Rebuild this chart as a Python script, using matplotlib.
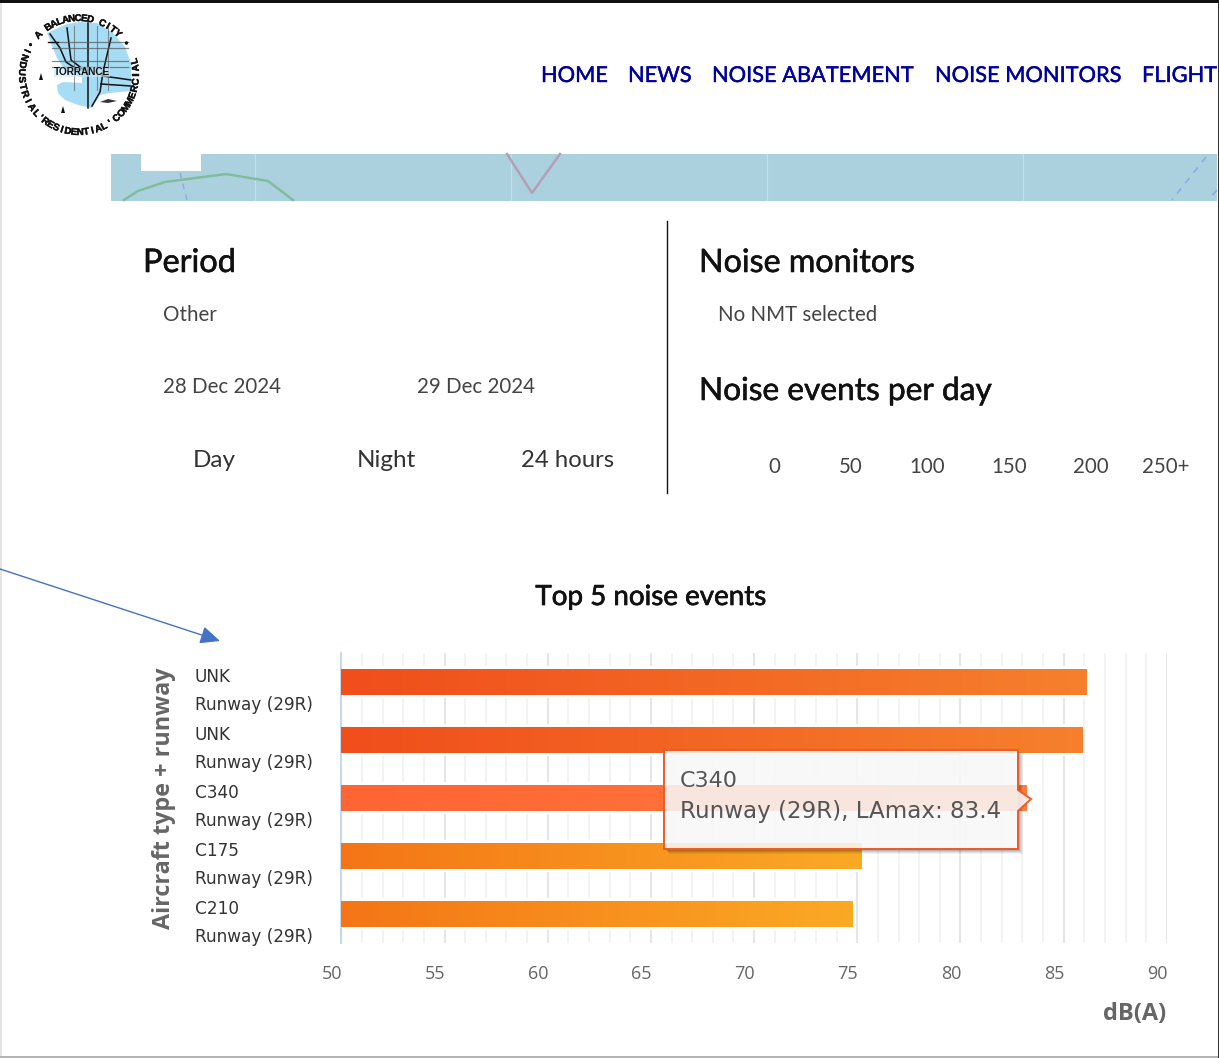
import numpy as np
import matplotlib
matplotlib.use("Agg")
import matplotlib.pyplot as plt
import matplotlib.patheffects as pe
from matplotlib.colors import LinearSegmentedColormap
from matplotlib.patches import Polygon, Rectangle
from matplotlib.ticker import MultipleLocator, NullFormatter
from matplotlib.transforms import ScaledTranslation

# chart data
aircraft = ["UNK", "UNK", "C340", "C175", "C210"]
runways = ["Runway (29R)"] * 5
lamax = [86.15, 85.95, 83.2, 75.2, 74.8]
bar_left_colors = ["#F04E1B", "#F04E1B", "#FF6433", "#F47516", "#F47516"]
bar_right_colors = ["#F6802D", "#F6802D", "#FF7D3D", "#FBAA25", "#FBAA25"]
x_ticks = [50, 55, 60, 65, 70, 75, 80, 85, 90]

# page text
nav_items = ["HOME", "NEWS", "NOISE ABATEMENT", "NOISE MONITORS", "FLIGHT"]
nav_x = [541, 628, 712, 935, 1142]
scale_labels = ["0", "50", "100", "150", "200", "250+"]
scale_x = [774, 851, 927, 1009, 1091, 1166]

W, H = 1219, 1058
fig = plt.figure(figsize=(W / 100, H / 100), dpi=100, facecolor="white")

# -------------------------------
# Page background, pixel coordinates
# -------------------------------
bg = fig.add_axes([0, 0, 1, 1], zorder=0)
bg.set_xlim(0, W)
bg.set_ylim(H, 0)
bg.axis("off")


def label(x, y, s, size, color="#333333", stroke=0.0, ha="left"):
    t = bg.text(x, y, s, fontsize=size, color=color, ha=ha, va="baseline", family="Lato")
    if stroke:
        t.set_path_effects([pe.withStroke(linewidth=stroke, foreground=color)])
    return t


# frame of the screenshot
bg.add_patch(Rectangle((0, 0), W, 3, color="#111111", lw=0))
bg.add_patch(Rectangle((0, 3), 1.5, H, color="#E4E4E4", lw=0))
bg.add_patch(Rectangle((0, H - 2), W, 2, color="#B4B4B4", lw=0))
bg.add_patch(Rectangle((1217.5, 3), 1.5, H, color="#333333", lw=0))

# logo
cx, cy = 79, 75
land = Polygon([(47, 33), (67, 24), (80, 22), (97, 23), (113, 33), (125, 47), (131, 63), (131, 91),
                (110, 93), (100, 95), (92, 108), (78, 105), (65, 100), (58, 93), (57, 85), (63, 82),
                (82, 83), (82, 77), (67, 73), (57, 58)], color="#A6DCF4", lw=0)
bg.add_patch(land)
roads = [[(50, 34), (60, 48), (66, 62), (78, 70)], [(67, 28), (71, 60), (84, 70)], [(88, 23), (88, 108)],
         [(111, 38), (103, 72), (100, 92), (92, 106)], [(101, 84), (131, 86)], [(103, 76), (131, 80)]]
for r in roads:
    bg.plot(*zip(*r), color="#111111", lw=1.1)
for yy in [42, 48, 61, 67]:
    bg.plot([52, 128], [yy, yy], color="#555555", lw=0.9, alpha=0.7)
for xx in [74, 97, 108]:
    bg.plot([xx, xx], [26, 90], color="#555555", lw=0.8, alpha=0.6)
bg.plot([48, 58], [42, 42], color="#111111", lw=1.0)
bg.text(82, 72, "TORRANCE", fontsize=7.2, fontweight="bold", family="Liberation Sans",
        ha="center", va="center", color="#111111",
        bbox=dict(facecolor="#C8E8F6", edgecolor="none", pad=0.2, alpha=0.6))
for px, py in [(41, 77), (63, 110)]:
    bg.add_patch(Polygon([(px - 2, py + 3), (px, py - 4), (px + 2, py + 3)], color="#111111", lw=0))
bg.add_patch(Polygon([(100, 102), (108, 99), (117, 101), (108, 103)], color="#333333", lw=0))


def arc_text(s, start, end, radius, outward):
    angles = np.linspace(start, end, len(s))
    for ch, a in zip(s, angles):
        rad = np.deg2rad(a)
        rot = a - 90 if outward else a + 90
        t = bg.text(cx + radius * np.cos(rad), cy - radius * np.sin(rad), ch, fontsize=7,
                    fontweight="bold", family="Liberation Sans", rotation=rot,
                    rotation_mode="anchor", ha="center", va="center", color="#111111")
        t.set_path_effects([pe.withStroke(linewidth=0.3, foreground="#111111")])


arc_text("• A BALANCED CITY •", 148, 34, 57, True)
arc_text("INDUSTRIAL", 155, 222, 57, False)
arc_text("RESIDENTIAL", 234, 296, 57, False)
arc_text("COMMERCIAL", 311, 374, 57, False)
arc_text("'", 228, 228, 57, False)
arc_text("'", 303, 303, 57, False)

# menu
for s, x in zip(nav_items, nav_x):
    label(x, 82, s, 15.7, color="#00009C", stroke=0.3)

# map strip
bg.add_patch(Rectangle((111, 154), W - 111 - 2, 46.5, color="#ACD1DE", lw=0))
bg.add_patch(Rectangle((141, 154), 60, 17, color="white", lw=0))
for x in [255, 511, 767, 1023]:
    bg.plot([x, x], [154, 200], color="#C4DFE7", lw=0.8)
bg.plot([124, 138, 165, 226, 268, 293], [200, 191, 182, 174, 181, 200], color="#82BC9C", lw=1.8)
bg.plot([507, 532, 560], [154, 193, 154], color="#B3A0B8", lw=1.8)
bg.plot([180, 187], [173, 200], color="#8FA8E8", lw=1.0, ls=(0, (4, 4)))
bg.plot([1206, 1172], [157, 200], color="#8FA8E8", lw=1.2, ls=(0, (4, 4)))
bg.plot([1217, 1208], [190, 200], color="#8FA8E8", lw=1.2, ls=(0, (4, 4)))

# panels above the chart
bg.plot([667, 667], [221, 493], color="#111111", lw=1.0)
label(143, 272, "Period", 23.4, color="#111111", stroke=0.4)
label(163, 321, "Other", 14.8, color="#444444")
label(163, 393, "28 Dec 2024", 14.8, color="#444444")
label(417, 393, "29 Dec 2024", 14.8, color="#444444")
label(193, 467, "Day", 17.5, color="#333333")
label(357, 467, "Night", 17.5, color="#333333")
label(521, 467, "24 hours", 17.2, color="#333333")
label(699, 272, "Noise monitors", 23.2, color="#111111", stroke=0.4)
label(718, 321, "No NMT selected", 14.8, color="#444444")
label(699, 400, "Noise events per day", 22.8, color="#111111", stroke=0.4)
for s, x in zip(scale_labels, scale_x):
    label(x, 473, s, 14.8, color="#444444", ha="center")
label(651, 605, "Top 5 noise events", 20, color="#111111", stroke=0.5, ha="center")

# arrow pointing at the chart
bg.annotate("", xy=(220, 641), xytext=(0, 569),
            arrowprops=dict(arrowstyle="-|>,head_length=1.0,head_width=0.45", color="#4472C4",
                            lw=1.0, shrinkA=0, shrinkB=0, mutation_scale=12))

# -------------------------------
# Chart: Top 5 noise events
# -------------------------------
ax = fig.add_axes([341.4 / W, 1 - 943 / H, 825.4 / W, 290 / H], zorder=1)
ax.patch.set_alpha(0)
y = np.arange(len(lamax))
bar_h = 0.447

# white band keeps the gridlines away from the bars
ax.barh(y, lamax, left=0, height=bar_h + 0.1, color="white", zorder=2)
bars = ax.barh(y, lamax, left=0, height=bar_h, color=bar_left_colors, zorder=3)
for rect, c0, c1 in zip(bars, bar_left_colors, bar_right_colors):
    cmap = LinearSegmentedColormap.from_list("bar", [c0, c1])
    x1 = rect.get_x() + rect.get_width()
    ax.imshow(np.linspace(0, 1, 256).reshape(1, -1), cmap=cmap, aspect="auto", zorder=4,
              extent=[50, x1, rect.get_y() + rect.get_height(), rect.get_y()])

ax.set_xlim(50, 90)
ax.set_ylim(4.5, -0.5)
ax.xaxis.set_major_locator(MultipleLocator(5))
ax.xaxis.set_minor_locator(MultipleLocator(1))
ax.xaxis.set_minor_formatter(NullFormatter())
ax.set_xticks(x_ticks)
ax.grid(which="major", axis="x", color="#E6E6E6", lw=1.5, zorder=1)
ax.grid(which="minor", axis="x", color="#F1F1F1", lw=1.2, zorder=1)
ax.set_axisbelow(True)
for side in ["top", "right", "bottom"]:
    ax.spines[side].set_visible(False)
ax.spines["left"].set_color("#CCD6EB")
ax.spines["left"].set_linewidth(1.5)
ax.tick_params(which="both", length=0)

ax.tick_params(axis="x", pad=16, labelsize=13, labelcolor="#666666")
for t in ax.get_xticklabels():
    t.set_family("Open Sans")
    t.set_transform(t.get_transform() + ScaledTranslation(-9.5 / 100, 0, fig.dpi_scale_trans))

ax.set_yticks(y)
ax.set_yticklabels([a + "\n" + r for a, r in zip(aircraft, runways)])
ax.tick_params(axis="y", pad=105.5, labelsize=12.2, labelcolor="#333333")
for t in ax.get_yticklabels():
    t.set_family("DejaVu Sans")
    t.set_ha("left")
    t.set_multialignment("left")
    t.set_linespacing(1.68)
    t.set_transform(t.get_transform() + ScaledTranslation(0, -2 / 100, fig.dpi_scale_trans))

ax.set_ylabel("Aircraft type + runway", fontsize=16.8, color="#666666", fontweight="bold",
              family="Open Sans")
ax.yaxis.set_label_coords((176 - 341.4) / 825.4, (943 - 798) / 290)
ax.set_xlabel("dB(A)", fontsize=17, color="#666666", fontweight="bold", family="Open Sans",
              ha="right")
ax.xaxis.set_label_coords(0.999, (943 - 1002) / 290)

# -------------------------------
# Tooltip on top of the chart
# -------------------------------
top = fig.add_axes([0, 0, 1, 1], zorder=2)
top.set_xlim(0, W)
top.set_ylim(H, 0)
top.axis("off")
top.patch.set_alpha(0)

x0, x1, y0, y1 = 664, 1018, 750, 849
outline = [(x0, y0), (x1, y0), (x1, 790), (1031, 799), (x1, 811), (x1, y1), (x0, y1)]
# soft shadow on the right and lower edges only
for off, a in [(5, 0.05), (4, 0.07), (3, 0.09), (2, 0.11)]:
    top.add_patch(Rectangle((x1, y0 + off), off, y1 - y0, color="#000000", alpha=a, lw=0))
    top.add_patch(Rectangle((x0 + off, y1), x1 - x0 - off, off, color="#000000", alpha=a, lw=0))
top.add_patch(Polygon(outline, facecolor="#F8F8F8", alpha=0.87, edgecolor="none", lw=0))
top.add_patch(Polygon(outline, facecolor="none", edgecolor="#EE5A28", lw=1.4))
top.text(680, 787, aircraft[2], fontsize=16, color="#555555", family="DejaVu Sans", va="baseline")
top.text(680, 818, "Runway (29R), LAmax: 83.4", fontsize=16.6, color="#555555",
         family="DejaVu Sans", va="baseline")

plt.savefig("out.png", dpi=100)
plt.close()
